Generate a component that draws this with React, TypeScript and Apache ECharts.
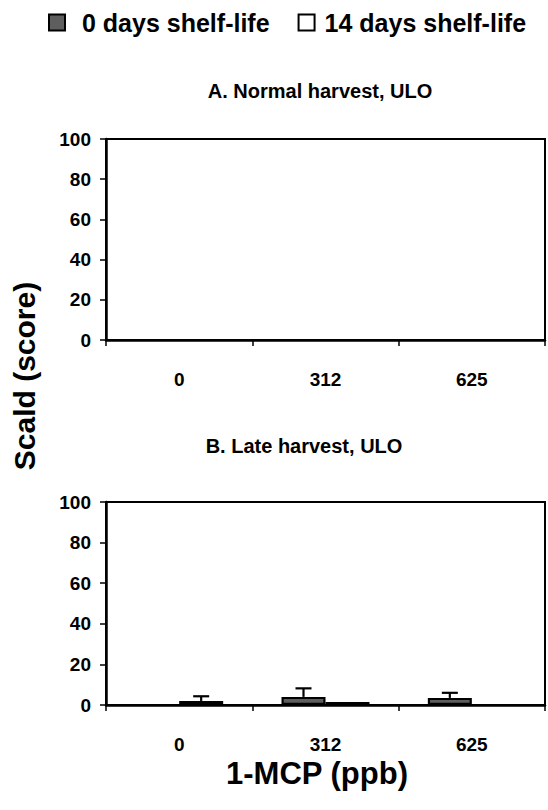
import React, { useEffect, useRef } from "react";
import * as echarts from "echarts";

const categories = ["0", "312", "625"];
const seriesNames = ["0 days shelf-life", "14 days shelf-life"];
const panelTitles = ["A. Normal harvest, ULO", "B. Late harvest, ULO"];
const yAxisName = "Scald (score)";
const xAxisName = "1-MCP (ppb)";

// Panel A: normal harvest
const normal0 = [0, 0, 0];
const normal0Err = [0, 0, 0];
const normal14 = [0, 0, 0];
const normal14Err = [0, 0, 0];
// Panel B: late harvest
const late0 = [0, 4, 3.5];
const late0Err = [0, 4.2, 2.5];
const late14 = [2, 1.5, 0];
const late14Err = [2.3, 0, 0];

const yMin = 0;
const yMax = 100;
const yInterval = 20;

const FONT = "'Liberation Sans', Arial, Helvetica, sans-serif";
const GRAY = "#5e5e5e";

function errSeries(gridIdx: number, vals: number[], errs: number[], offset: number) {
  return {
    type: "custom",
    xAxisIndex: gridIdx,
    yAxisIndex: gridIdx,
    silent: true,
    z: 5,
    data: vals.map((v, i) => [i, v, errs[i]]),
    renderItem: (params: any, api: any) => {
      const e = api.value(2);
      if (!e) return { type: "group", children: [] };
      const x = api.value(0);
      const v = api.value(1);
      const p0 = api.coord([x, v]);
      const p1 = api.coord([x, v + e]);
      const cx = p0[0] + offset;
      const st = { stroke: "#000", lineWidth: 2.2 };
      return {
        type: "group",
        children: [
          { type: "line", shape: { x1: cx, y1: p0[1], x2: cx, y2: p1[1] }, style: st },
          { type: "line", shape: { x1: cx - 8, y1: p1[1], x2: cx + 8, y2: p1[1] }, style: st },
        ],
      };
    },
  };
}

function barSeries(gridIdx: number, name: string, vals: number[], color: string) {
  return {
    type: "bar",
    name,
    xAxisIndex: gridIdx,
    yAxisIndex: gridIdx,
    data: vals,
    barWidth: 44,
    barGap: "0%",
    itemStyle: { color, borderColor: "#000", borderWidth: 2.2 },
  };
}

export default function App() {
  const ref = useRef<HTMLDivElement>(null);
  useEffect(() => {
    document.body.style.margin = "0";
    if (!ref.current) return;
    const chart = echarts.init(ref.current, null, { renderer: "svg" });
    const grids = [
      { left: 106, top: 139, width: 439, height: 201 },
      { left: 106, top: 502, width: 439, height: 203 },
    ].map((g) => ({ ...g, show: true, borderColor: "#000", borderWidth: 2, backgroundColor: "transparent" }));

    const mkX = (i: number) => ({
      type: "category",
      gridIndex: i,
      data: categories,
      axisLine: { lineStyle: { color: "#000", width: 2.5 } },
      axisTick: { show: true, length: 6, lineStyle: { color: "#000", width: 1.5 } },
      axisLabel: { color: "#000", fontFamily: FONT, fontWeight: "bold", fontSize: 19, margin: 30 },
    });
    const mkY = (i: number) => ({
      type: "value",
      gridIndex: i,
      min: yMin,
      max: yMax,
      interval: yInterval,
      axisLine: { show: true, lineStyle: { color: "#000", width: 2.5 } },
      axisTick: { show: true, length: 6, lineStyle: { color: "#000", width: 1.5 } },
      splitLine: { show: false },
      axisLabel: { color: "#000", fontFamily: FONT, fontWeight: "bold", fontSize: 19, margin: 15 },
    });

    const legendText = { color: "#000", fontFamily: FONT, fontWeight: "bold", fontSize: 25 };
    const option: any = {
      animation: false,
      backgroundColor: "#fff",
      legend: {
        data: [
          { name: seriesNames[0], textStyle: { ...legendText, padding: [0, 0, 0, 12] } },
          { name: seriesNames[1], textStyle: { ...legendText, padding: [0, 0, 0, 5] } },
        ],
        left: 48,
        top: 10,
        padding: 0,
        icon: "rect",
        itemWidth: 16,
        itemHeight: 16,
        itemGap: 28,
        textStyle: legendText,
        selectedMode: false,
      },
      grid: grids,
      xAxis: [mkX(0), mkX(1)],
      yAxis: [mkY(0), mkY(1)],
      graphic: [
        {
          type: "text",
          x: 320,
          y: 91,
          style: {
            text: panelTitles[0],
            fill: "#000",
            font: `bold 20px ${FONT}`,
            textAlign: "center",
            textVerticalAlign: "middle",
          },
        },
        {
          type: "text",
          x: 304,
          y: 446,
          style: {
            text: panelTitles[1],
            fill: "#000",
            font: `bold 20px ${FONT}`,
            textAlign: "center",
            textVerticalAlign: "middle",
          },
        },
        {
          type: "text",
          x: 24,
          y: 376,
          rotation: Math.PI / 2,
          style: {
            text: yAxisName,
            fill: "#000",
            font: `bold 30px ${FONT}`,
            textAlign: "center",
            textVerticalAlign: "middle",
          },
        },
        {
          type: "text",
          x: 317,
          y: 773,
          style: {
            text: xAxisName,
            fill: "#000",
            font: `bold 31px ${FONT}`,
            textAlign: "center",
            textVerticalAlign: "middle",
          },
        },
      ],
      series: [
        barSeries(0, seriesNames[0], normal0, GRAY),
        barSeries(0, seriesNames[1], normal14, "#fff"),
        barSeries(1, seriesNames[0], late0, GRAY),
        barSeries(1, seriesNames[1], late14, "#fff"),
        errSeries(0, normal0, normal0Err, -22),
        errSeries(0, normal14, normal14Err, 22),
        errSeries(1, late0, late0Err, -22),
        errSeries(1, late14, late14Err, 22),
      ],
    };
    chart.setOption(option);
    return () => chart.dispose();
  }, []);
  return <div ref={ref} style={{ width: 548, height: 810 }} />;
}
